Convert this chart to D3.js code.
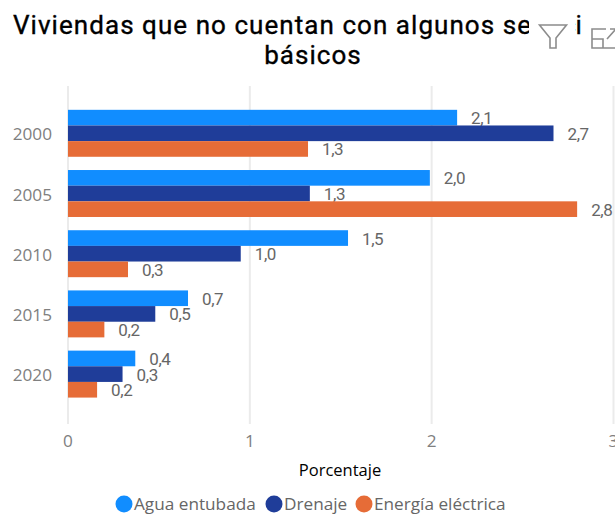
<!DOCTYPE html>
<html lang="es">
<head>
<meta charset="utf-8">
<title>Viviendas</title>
<script src="https://d3js.org/d3.v7.min.js"></script>
<style>
  html, body { margin: 0; padding: 0; background: #fff; overflow: hidden; }
  svg { display: block; }
  .title { font-family: "Roboto", sans-serif; font-size: 26px; font-weight: 400; fill: #000; stroke: #000; stroke-width: .35px; letter-spacing: 1.05px; }
  .tick-label { font-family: "Open Sans", sans-serif; font-size: 17.2px; fill: #808080; }
  .value { font-family: "Roboto", sans-serif; font-size: 17px; fill: #666; letter-spacing: -.4px; }
  .axis-title { font-family: "Open Sans", sans-serif; font-size: 16.5px; fill: #000; }
  .legend { font-family: "Open Sans", sans-serif; font-size: 17.2px; fill: #666; }
</style>
</head>
<body>
<svg width="615" height="517"></svg>
<script>
const years = ["2000", "2005", "2010", "2015", "2020"];
const seriesNames = ["Agua entubada", "Drenaje", "Energía eléctrica"];
const agua = [2.14, 1.99, 1.54, 0.66, 0.37];
const drenaje = [2.67, 1.33, 0.95, 0.48, 0.30];
const energia = [1.32, 2.80, 0.33, 0.20, 0.16];
const labelsAgua = ["2,1", "2,0", "1,5", "0,7", "0,4"];
const labelsDrenaje = ["2,7", "1,3", "1,0", "0,5", "0,3"];
const labelsEnergia = ["1,3", "2,8", "0,3", "0,2", "0,2"];
const xTicks = [0, 1, 2, 3];
const colors = ["#118DFF", "#1F3D99", "#E66C37"];

const svg = d3.select("svg");

const x = d3.scaleLinear().domain([0, 3]).range([68, 613.5]);
const y = d3.scaleBand().domain(years).range([103.2, 404.2]).paddingInner(0.22).paddingOuter(0.11);
const sub = d3.scaleBand().domain(seriesNames).range([0, y.bandwidth()]);

// grid
svg.append("g").selectAll("line").data(xTicks).enter().append("line")
  .attr("x1", d => x(d)).attr("x2", d => x(d))
  .attr("y1", 86).attr("y2", 424)
  .attr("stroke", "#ebebeb").attr("stroke-width", 2);

const series = [
  { name: seriesNames[0], values: agua, labels: labelsAgua, color: colors[0] },
  { name: seriesNames[1], values: drenaje, labels: labelsDrenaje, color: colors[1] },
  { name: seriesNames[2], values: energia, labels: labelsEnergia, color: colors[2] }
];

series.forEach(s => {
  const g = svg.append("g");
  g.selectAll("rect").data(years).enter().append("rect")
    .attr("x", x(0))
    .attr("y", d => y(d) + sub(s.name))
    .attr("width", (d, i) => x(s.values[i]) - x(0))
    .attr("height", sub.bandwidth())
    .attr("fill", s.color);
  g.selectAll("text").data(years).enter().append("text")
    .attr("class", "value")
    .attr("x", (d, i) => x(s.values[i]) + 14)
    .attr("y", d => y(d) + sub(s.name) + sub.bandwidth() / 2 + 6.5)
    .text((d, i) => s.labels[i]);
});

// axes labels
svg.append("g").selectAll("text").data(years).enter().append("text")
  .attr("class", "tick-label")
  .attr("x", 52).attr("text-anchor", "end")
  .attr("y", d => y(d) + y.bandwidth() / 2 + 7)
  .text(d => d);

svg.append("g").selectAll("text").data(xTicks).enter().append("text")
  .attr("class", "tick-label")
  .attr("x", d => x(d)).attr("text-anchor", "middle")
  .attr("y", 447)
  .text(d => d);

svg.append("text").attr("class", "axis-title")
  .attr("x", 340).attr("y", 476).attr("text-anchor", "middle")
  .text("Porcentaje");

// title, with the visual header icons sitting on top of it
const title = svg.append("text").attr("class", "title").attr("x", 13).attr("y", 34);
title.append("tspan").text("Viviendas que no cuentan con algunos se");
title.append("tspan").attr("x", 531).text("rvi");
title.append("tspan").attr("x", 562).text("c");
title.append("tspan").attr("x", 575.5).text("i");
title.append("tspan").attr("x", 586).text("os");
svg.append("text").attr("class", "title").attr("x", 313).attr("y", 64).attr("text-anchor", "middle")
  .text("básicos");
svg.append("rect").attr("x", 529).attr("y", 12).attr("width", 46).attr("height", 40).attr("fill", "#fff");
svg.append("rect").attr("x", 584).attr("y", 12).attr("width", 31).attr("height", 40).attr("fill", "#fff");

// filter icon
svg.append("path")
  .attr("d", "M539.5,25 H566.5 L556,38 V48 H550 V38 Z")
  .attr("fill", "none").attr("stroke", "#8c8c8c").attr("stroke-width", 1.6);
// expand icon
svg.append("path")
  .attr("d", "M606,29 H592 V48 H615 M592,39 H603 V48 M607,39 L615,30 M610,29 H615")
  .attr("fill", "none").attr("stroke", "#8c8c8c").attr("stroke-width", 1.6);

// legend
const legendCx = [124, 274, 364];
const legend = svg.append("g").selectAll("g").data(seriesNames).enter().append("g")
  .attr("transform", (d, i) => "translate(" + legendCx[i] + ",504)");
legend.append("circle").attr("r", 8.5).attr("cy", 0).attr("fill", (d, i) => colors[i]);
legend.append("text").attr("class", "legend").attr("x", 10).attr("y", 6).text(d => d);
</script>
</body>
</html>
